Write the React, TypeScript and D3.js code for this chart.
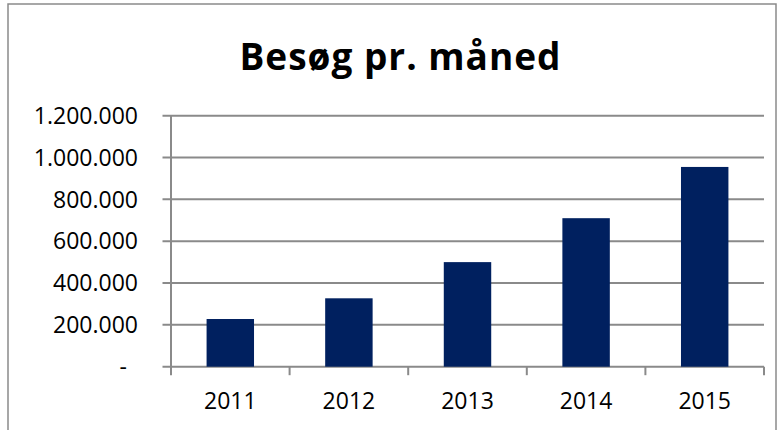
import React from 'react';
import * as d3 from 'd3';

const years = ['2011', '2012', '2013', '2014', '2015'];
const visits = [228000, 327000, 500000, 710000, 955000];
const yTicks = [0, 200000, 400000, 600000, 800000, 1000000, 1200000];
const title = 'Besøg pr. måned';

const W = 784;
const H = 430;
const plot = { left: 171, right: 764, top: 115.7, bottom: 366.7 };
const gridColor = '#8a8a8a';
const barColor = '#00205f';
const font = '"Open Sans", sans-serif';

// danish style thousands: 1.200.000, zero shown as a dash
const fmt = (v: number) =>
  v === 0 ? '-' : d3.format(',')(v).replace(/,/g, '.');

export default function App() {
  const x = d3.scaleBand().domain(years).range([plot.left, plot.right]).paddingInner(0.6).paddingOuter(0.3);
  const band = d3.scaleBand().domain(years).range([plot.left, plot.right]);
  const y = d3.scaleLinear().domain([0, 1200000]).range([plot.bottom, plot.top]);

  return (
    <>
      <style>{'body{margin:0}'}</style>
      <svg width={W} height={H} style={{ display: 'block' }}>
        <rect x={0} y={0} width={W} height={H} fill="#fff" />
        {/* chart frame */}
        <path d={`M8,${H} V4 H776 V${H}`} fill="none" stroke={gridColor} strokeWidth={1.5} />

        <text
          x={400}
          y={70}
          textAnchor="middle"
          fontFamily={font}
          fontWeight="bold"
          fontSize={37}
          textLength={321}
          lengthAdjust="spacing"
          fill="#000"
        >
          {title}
        </text>

        {/* gridlines + y labels */}
        {yTicks.map(t => (
          <g key={t}>
            <line x1={plot.left - 8.5} x2={plot.right} y1={y(t)} y2={y(t)} stroke={gridColor} strokeWidth={2} />
            <text
              x={t === 0 ? 127 : 138}
              y={y(t)}
              dy="0.36em"
              textAnchor="end"
              fontFamily={font}
              fontSize={23}
              fill="#000"
            >
              {fmt(t)}
            </text>
          </g>
        ))}

        {/* y axis */}
        <line x1={plot.left} x2={plot.left} y1={plot.top} y2={plot.bottom + 8.5} stroke={gridColor} strokeWidth={2} />

        {/* category ticks */}
        {years.map(yr => (
          <line
            key={'t' + yr}
            x1={(band(yr) as number) + band.bandwidth()}
            x2={(band(yr) as number) + band.bandwidth()}
            y1={plot.bottom}
            y2={plot.bottom + 8.5}
            stroke={gridColor}
            strokeWidth={2}
          />
        ))}

        {/* bars */}
        {visits.map((v, i) => (
          <rect
            key={years[i]}
            x={x(years[i])}
            y={y(v)}
            width={x.bandwidth()}
            height={plot.bottom - y(v)}
            fill={barColor}
          />
        ))}

        {/* year labels */}
        {years.map(yr => (
          <text
            key={'l' + yr}
            x={(band(yr) as number) + band.bandwidth() / 2}
            y={409}
            textAnchor="middle"
            fontFamily={font}
            fontSize={23}
            fill="#000"
          >
            {yr}
          </text>
        ))}
      </svg>
    </>
  );
}
